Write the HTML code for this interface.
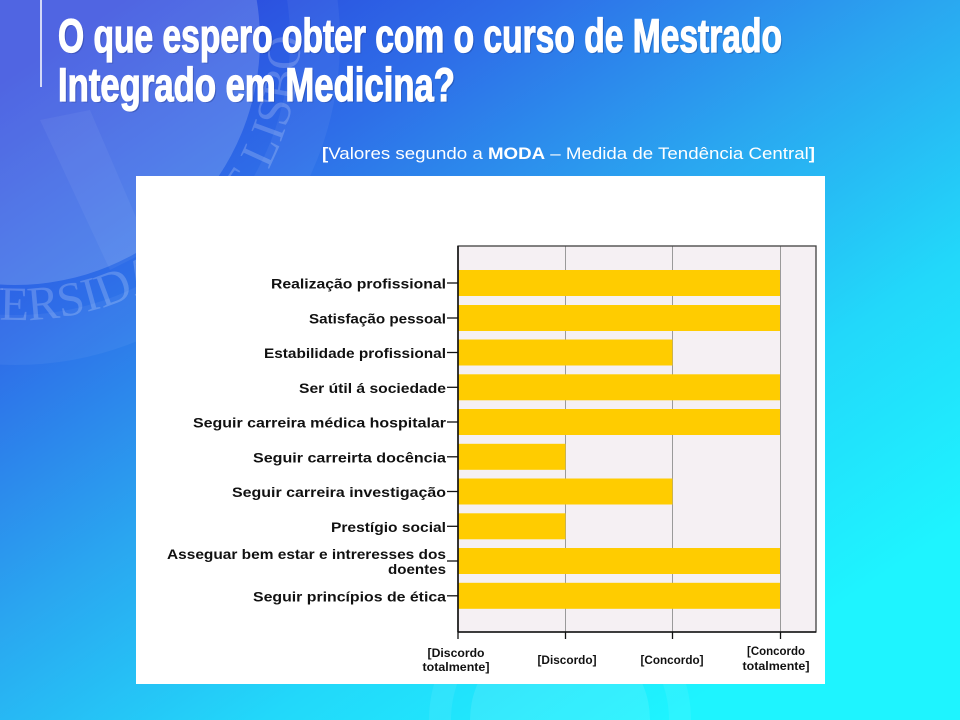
<!DOCTYPE html>
<html><head><meta charset="utf-8"><style>
html,body{margin:0;padding:0;width:960px;height:720px;overflow:hidden;}
svg{display:block;}
</style></head><body>
<svg width="960" height="720" viewBox="0 0 960 720" xmlns="http://www.w3.org/2000/svg">
<defs>
<linearGradient id="bg" gradientUnits="userSpaceOnUse" x1="200" y1="-50" x2="700" y2="700">
<stop offset="0" stop-color="#2a44dc"/>
<stop offset="0.25" stop-color="#2e6ee8"/>
<stop offset="0.5" stop-color="#2aa6f0"/>
<stop offset="0.75" stop-color="#22d8fa"/>
<stop offset="1" stop-color="#1ef4ff"/>
</linearGradient>
<clipPath id="page"><rect x="0" y="0" width="960" height="720"/></clipPath>
<path id="arc1" d="M -260 40 A 280 280 0 0 0 300 40"/>
</defs>
<g clip-path="url(#page)">
<rect x="0" y="0" width="960" height="720" fill="url(#bg)"/>
<!-- watermark seal -->
<circle cx="15" cy="40" r="245" fill="#ffffff" fill-opacity="0.18"/>
<circle cx="15" cy="40" r="300" fill="none" stroke="#ffffff" stroke-opacity="0.05" stroke-width="50"/>
<text font-family="Liberation Serif, serif" font-size="48" fill="#ffffff" fill-opacity="0.2"><textPath href="#arc1" startOffset="34%">UNIVERSIDADE DE LISBOA</textPath></text>
<path d="M40 120 L110 270 L150 250 L90 110 Z" fill="#ffffff" fill-opacity="0.05"/>
<path d="M470 720 A90 90 0 0 1 650 720 Z" fill="#ffffff" fill-opacity="0.1"/>
<path d="M440 720 A120 120 0 0 1 680 720" fill="none" stroke="#ffffff" stroke-opacity="0.07" stroke-width="22"/>
</g>
<!-- left line -->
<line x1="41" y1="0" x2="41" y2="87" stroke="#ffffff" stroke-width="1.5"/>
<!-- title -->
<g font-family="'Liberation Sans Narrow','Liberation Sans',sans-serif" font-weight="bold" font-size="47">
<text x="59.5" y="53.5" fill="#1a2a70" fill-opacity="0.3" textLength="724" lengthAdjust="spacingAndGlyphs">O que espero obter com o curso de Mestrado</text>
<text x="59.5" y="102.5" fill="#1a2a70" fill-opacity="0.3" textLength="397" lengthAdjust="spacingAndGlyphs">Integrado em Medicina?</text>
<text x="58" y="52" fill="#ffffff" stroke="#ffffff" stroke-width="1.3" textLength="724" lengthAdjust="spacingAndGlyphs">O que espero obter com o curso de Mestrado</text>
<text x="58" y="101" fill="#ffffff" stroke="#ffffff" stroke-width="1.3" textLength="397" lengthAdjust="spacingAndGlyphs">Integrado em Medicina?</text>
</g>
<!-- subtitle -->
<text x="322" y="159" font-family="'Liberation Sans',sans-serif" font-size="16.5" fill="#ffffff" textLength="493" lengthAdjust="spacingAndGlyphs"><tspan font-weight="bold">[</tspan>Valores segundo a <tspan font-weight="bold">MODA</tspan> – Medida de Tendência Central<tspan font-weight="bold">]</tspan></text>
<!-- white chart box -->
<rect x="136" y="176" width="689" height="508" fill="#ffffff"/>
<!-- plot area -->
<rect x="458" y="246" width="358" height="386" fill="#f5f0f3"/>
<g stroke="#9a9a9a" stroke-width="1">
<line x1="565.5" y1="246" x2="565.5" y2="632"/>
<line x1="672.5" y1="246" x2="672.5" y2="632"/>
<line x1="780.5" y1="246" x2="780.5" y2="632"/>
</g>
<!-- bars -->
<g fill="#ffcc00">
<rect x="458" y="270" width="322" height="26"/>
<rect x="458" y="305" width="322" height="26"/>
<rect x="458" y="339.5" width="214.5" height="26"/>
<rect x="458" y="374.3" width="322" height="26"/>
<rect x="458" y="409" width="322" height="26"/>
<rect x="458" y="443.8" width="107.5" height="26"/>
<rect x="458" y="478.5" width="214.5" height="26"/>
<rect x="458" y="513.3" width="107.5" height="26"/>
<rect x="458" y="548" width="322" height="26"/>
<rect x="458" y="582.8" width="322" height="26"/>
</g>
<rect x="458" y="246" width="358" height="386" fill="none" stroke="#404040" stroke-width="1.3"/>
<line x1="458" y1="246" x2="458" y2="632" stroke="#111" stroke-width="1.6"/>
<line x1="458" y1="632" x2="816" y2="632" stroke="#111" stroke-width="1.6"/>
<!-- ticks -->
<g stroke="#111" stroke-width="1.3">
<line x1="447" y1="283" x2="458" y2="283"/>
<line x1="447" y1="318" x2="458" y2="318"/>
<line x1="447" y1="352.5" x2="458" y2="352.5"/>
<line x1="447" y1="387.3" x2="458" y2="387.3"/>
<line x1="447" y1="422" x2="458" y2="422"/>
<line x1="447" y1="456.8" x2="458" y2="456.8"/>
<line x1="447" y1="491.5" x2="458" y2="491.5"/>
<line x1="447" y1="526.3" x2="458" y2="526.3"/>
<line x1="447" y1="561" x2="458" y2="561"/>
<line x1="447" y1="595.8" x2="458" y2="595.8"/>
<line x1="458" y1="632" x2="458" y2="639"/>
<line x1="565.5" y1="632" x2="565.5" y2="639"/>
<line x1="672.5" y1="632" x2="672.5" y2="639"/>
<line x1="780.5" y1="632" x2="780.5" y2="639"/>
</g>
<!-- category labels -->
<g font-family="'Liberation Sans',sans-serif" font-weight="bold" font-size="13.5" fill="#111" text-anchor="end">
<text x="446" y="288.5" textLength="175" lengthAdjust="spacingAndGlyphs">Realização profissional</text>
<text x="446" y="323.5" textLength="137" lengthAdjust="spacingAndGlyphs">Satisfação pessoal</text>
<text x="446" y="358" textLength="182" lengthAdjust="spacingAndGlyphs">Estabilidade profissional</text>
<text x="446" y="392.8" textLength="147" lengthAdjust="spacingAndGlyphs">Ser útil á sociedade</text>
<text x="446" y="427.5" textLength="253" lengthAdjust="spacingAndGlyphs">Seguir carreira médica hospitalar</text>
<text x="446" y="462.3" textLength="193" lengthAdjust="spacingAndGlyphs">Seguir carreirta docência</text>
<text x="446" y="497" textLength="214" lengthAdjust="spacingAndGlyphs">Seguir carreira investigação</text>
<text x="446" y="531.8" textLength="115" lengthAdjust="spacingAndGlyphs">Prestígio social</text>
<text x="446" y="559" textLength="279" lengthAdjust="spacingAndGlyphs">Asseguar bem estar e intreresses dos</text>
<text x="446" y="574" textLength="58" lengthAdjust="spacingAndGlyphs">doentes</text>
<text x="446" y="601.3" textLength="193" lengthAdjust="spacingAndGlyphs">Seguir princípios de ética</text>
</g>
<!-- x tick labels -->
<g font-family="'Liberation Sans',sans-serif" font-weight="bold" font-size="11.5" fill="#111" text-anchor="middle">
<text x="456" y="657" textLength="57" lengthAdjust="spacingAndGlyphs">[Discordo</text>
<text x="456" y="671" textLength="67" lengthAdjust="spacingAndGlyphs">totalmente]</text>
<text x="567" y="664" textLength="59" lengthAdjust="spacingAndGlyphs">[Discordo]</text>
<text x="672" y="664" textLength="63" lengthAdjust="spacingAndGlyphs">[Concordo]</text>
<text x="776" y="655" textLength="58" lengthAdjust="spacingAndGlyphs">[Concordo</text>
<text x="776" y="670" textLength="67" lengthAdjust="spacingAndGlyphs">totalmente]</text>
</g>
</svg>
</body></html>
